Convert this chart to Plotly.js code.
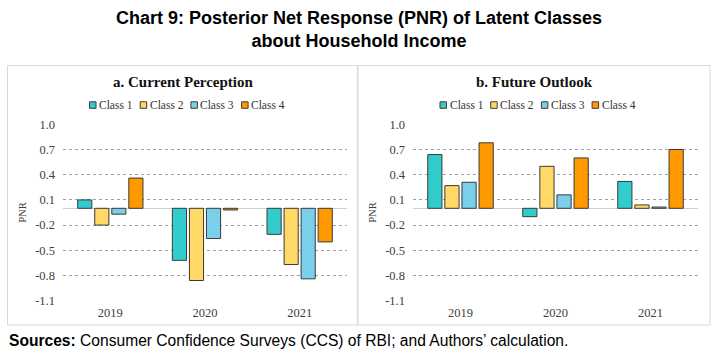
<!DOCTYPE html>
<html><head><meta charset="utf-8">
<script src="https://cdn.plot.ly/plotly-3.0.1.min.js"></script>
<style>html,body{margin:0;padding:0;background:#fff;} #chart{width:718px;height:357px;}</style>
</head><body><div id="chart"></div>
<script>
const years = ['2019', '2020', '2021'];
const classNames = ['Class 1', 'Class 2', 'Class 3', 'Class 4'];
const classColors = ['#33CCCC', '#FFD966', '#7ACFEA', '#FF9900'];
const currentClass1 = [0.10, -0.62, -0.31];
const currentClass2 = [-0.20, -0.86, -0.67];
const currentClass3 = [-0.07, -0.36, -0.84];
const currentClass4 = [0.36, -0.02, -0.40];
const futureClass1 = [0.64, -0.10, 0.32];
const futureClass2 = [0.27, 0.50, 0.04];
const futureClass3 = [0.31, 0.16, 0.015];
const futureClass4 = [0.78, 0.60, 0.70];
const yTicks = [1.0, 0.7, 0.4, 0.1, -0.2, -0.5, -0.8, -1.1];
const chartTitle = 'Chart 9: Posterior Net Response (PNR) of Latent Classes<br>about Household Income';
const panelTitles = ['a. Current Perception', 'b. Future Outlook'];
const yTitle = 'PNR';
const sourceText = '<b>Sources:</b> Consumer Confidence Surveys (CCS) of RBI; and Authors\u2019 calculation.';

const W = 718, H = 357;
const px = x => x / W;
const py = y => 1 - y / H;

const currentSeries = [currentClass1, currentClass2, currentClass3, currentClass4];
const futureSeries = [futureClass1, futureClass2, futureClass3, futureClass4];

const traces = [];
currentSeries.forEach((vals, i) => traces.push({
  type: 'bar', x: years, y: vals, name: classNames[i], xaxis: 'x', yaxis: 'y',
  marker: {color: classColors[i], line: {color: '#3a3a3a', width: 1}}, showlegend: false
}));
futureSeries.forEach((vals, i) => traces.push({
  type: 'bar', x: years, y: vals, name: classNames[i], xaxis: 'x2', yaxis: 'y2',
  marker: {color: classColors[i], line: {color: '#3a3a3a', width: 1}}, showlegend: false
}));

const serif = 'Liberation Serif, DejaVu Serif, serif';
const sans = 'Liberation Sans, Arial, sans-serif';
const tickFont = {family: serif, size: 12.5, color: '#404040'};

function yAxis(anchor) {
  return {
    anchor: anchor, domain: [py(300.7), py(124.3)], range: [-1.1005, 1.0005],
    tickmode: 'array', tickvals: yTicks, ticktext: yTicks.map(v => v.toFixed(1)),
    tickfont: tickFont, showgrid: true, gridcolor: '#a0a0a0', griddash: 'dot', gridwidth: 1,
    zeroline: true, zerolinecolor: '#d0d0d0', zerolinewidth: 1.5, showline: false, ticks: '',
    ticklabelstandoff: 7,
    title: {text: yTitle, font: {family: serif, size: 10.5, color: '#404040'}, standoff: 6},
    fixedrange: true
  };
}
function xAxis(domain, anchor) {
  return {
    anchor: anchor, domain: domain, type: 'category', range: [-0.5, 2.5],
    tickfont: tickFont, showgrid: false, zeroline: false, showline: false, ticks: '',
    ticklabelstandoff: 3, fixedrange: true
  };
}

const shapes = [
  {type: 'rect', xref: 'paper', yref: 'paper', x0: px(7.5), x1: px(357.5), y0: py(325), y1: py(65.5), line: {color: '#d9d9d9', width: 1}},
  {type: 'rect', xref: 'paper', yref: 'paper', x0: px(358), x1: px(710), y0: py(325), y1: py(65.5), line: {color: '#d9d9d9', width: 1}}
];
const annotations = [
  {text: chartTitle, xref: 'paper', yref: 'paper', x: px(359), y: py(29.5), xanchor: 'center', yanchor: 'middle', showarrow: false, font: {family: sans, size: 18, color: '#000', weight: 'bold'}},
  {text: sourceText, xref: 'paper', yref: 'paper', x: px(7), y: py(340), xanchor: 'left', yanchor: 'middle', showarrow: false, font: {family: sans, size: 15.6, color: '#000'}},
  {text: panelTitles[0], xref: 'paper', yref: 'paper', x: px(182.5), y: py(82), xanchor: 'center', yanchor: 'middle', showarrow: false, font: {family: serif, size: 15, color: '#111', weight: 'bold'}},
  {text: panelTitles[1], xref: 'paper', yref: 'paper', x: px(534), y: py(82), xanchor: 'center', yanchor: 'middle', showarrow: false, font: {family: serif, size: 15, color: '#111', weight: 'bold'}}
];
const legendStarts = [89.5, 440];
legendStarts.forEach(x0 => {
  classNames.forEach((nm, i) => {
    const sx = x0 + i * 50.7;
    shapes.push({type: 'rect', xref: 'paper', yref: 'paper', x0: px(sx), x1: px(sx + 6.5), y0: py(108.3), y1: py(101.8), fillcolor: classColors[i], line: {color: '#3a3a3a', width: 1}});
    annotations.push({text: nm, xref: 'paper', yref: 'paper', x: px(sx + 7.5), y: py(105), xanchor: 'left', yanchor: 'middle', showarrow: false, font: {family: serif, size: 11.5, color: '#333'}});
  });
});

const layout = {
  width: W, height: H, margin: {l: 0, r: 0, t: 0, b: 0}, paper_bgcolor: '#fff', plot_bgcolor: 'rgba(0,0,0,0)',
  barmode: 'group', bargap: 0.28, bargroupgap: 0.17,
  xaxis: xAxis([px(63), px(347)], 'y'), yaxis: yAxis('x'),
  xaxis2: xAxis([px(413), px(698)], 'y2'), yaxis2: yAxis('x2'),
  shapes: shapes, annotations: annotations, showlegend: false
};
Plotly.newPlot('chart', traces, layout, {displayModeBar: false, staticPlot: true});
</script></body></html>
